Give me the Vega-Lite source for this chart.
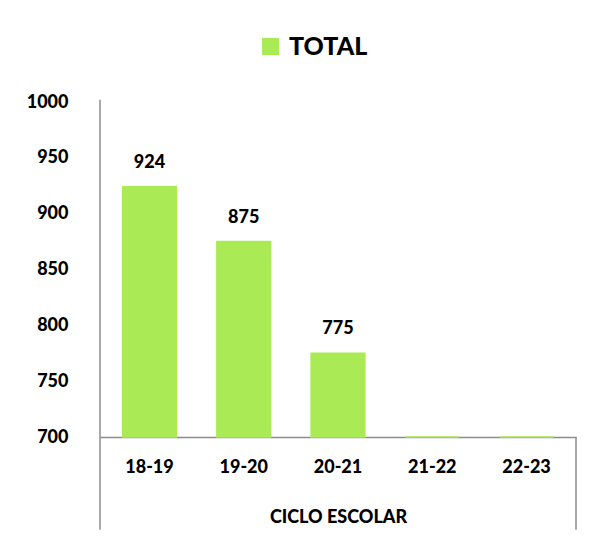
{
  "$schema": "https://vega.github.io/schema/vega-lite/v6.json",
  "width": 476,
  "height": 335,
  "autosize": "none",
  "padding": {"left": 100, "top": 102, "right": 24, "bottom": 101},
  "background": "white",
  "config": {"font": "Lato", "view": {"stroke": null}},
  "data": {"values": [
    {"ciclo": "18-19", "serie": "TOTAL", "value": 924},
    {"ciclo": "19-20", "serie": "TOTAL", "value": 875},
    {"ciclo": "20-21", "serie": "TOTAL", "value": 775},
    {"ciclo": "21-22", "serie": "TOTAL", "value": 0},
    {"ciclo": "22-23", "serie": "TOTAL", "value": 0}
  ]},
  "encoding": {
    "x": {
      "field": "ciclo", "type": "nominal", "sort": null,
      "scale": {"paddingInner": 0.43, "paddingOuter": 0.24},
      "axis": {
        "title": "CICLO ESCOLAR", "titleFontSize": 18, "titleFontWeight": 900, "titleColor": "black", "titlePadding": 32,
        "labelAngle": 0, "labelFontSize": 18, "labelFontWeight": 900, "labelColor": "black", "labelPadding": 21,
        "ticks": false, "domainColor": "#8c8c8c", "domainWidth": 1.5, "grid": false
      }
    }
  },
  "layer": [
    {
      "mark": {"type": "bar", "stroke": "#A9EA55", "strokeWidth": 1.5},
      "encoding": {
        "y": {
          "field": "value", "type": "quantitative",
          "scale": {"domain": [700, 1000], "clamp": true, "nice": false, "zero": false},
          "axis": {
            "title": null, "values": [700, 750, 800, 850, 900, 950, 1000], "format": "d",
            "labelFontSize": 18, "labelFontWeight": 900, "labelColor": "black", "labelPadding": 32,
            "ticks": false, "domain": false, "grid": false
          }
        },
        "y2": {"datum": 700},
        "color": {
          "field": "serie", "type": "nominal",
          "scale": {"range": ["#A9EA55"]},
          "legend": {
            "orient": "none", "legendX": 158, "legendY": -68, "title": null,
            "symbolType": "square", "symbolSize": 289, "symbolStrokeWidth": 0,
            "labelFontSize": 25, "labelFontWeight": 900, "labelColor": "black", "labelOffset": 6
          }
        }
      }
    },
    {
      "transform": [{"filter": "datum.value > 700"}],
      "mark": {"type": "text", "dy": -24, "fontSize": 18, "fontWeight": 900, "color": "black"},
      "encoding": {
        "y": {"field": "value", "type": "quantitative", "scale": {"domain": [700, 1000], "nice": false, "zero": false}, "axis": null},
        "text": {"field": "value", "type": "quantitative"}
      }
    },
    {
      "data": {"values": [{"pos": "left"}]},
      "mark": {"type": "rule", "color": "#8c8c8c", "strokeWidth": 1.5},
      "encoding": {
        "x": {"datum": "18-19", "bandPosition": -0.421},
        "y": {"datum": 1002, "type": "quantitative", "scale": {"domain": [700, 1000], "nice": false, "zero": false}, "axis": null},
        "y2": {"datum": 617}
      }
    },
    {
      "data": {"values": [{"pos": "right"}]},
      "mark": {"type": "rule", "color": "#8c8c8c", "strokeWidth": 1.5},
      "encoding": {
        "x": {"datum": "22-23", "bandPosition": 1.421},
        "y": {"datum": 700, "type": "quantitative", "scale": {"domain": [700, 1000], "nice": false, "zero": false}, "axis": null},
        "y2": {"datum": 617}
      }
    }
  ],
  "resolve": {"scale": {"y": "independent"}}
}
